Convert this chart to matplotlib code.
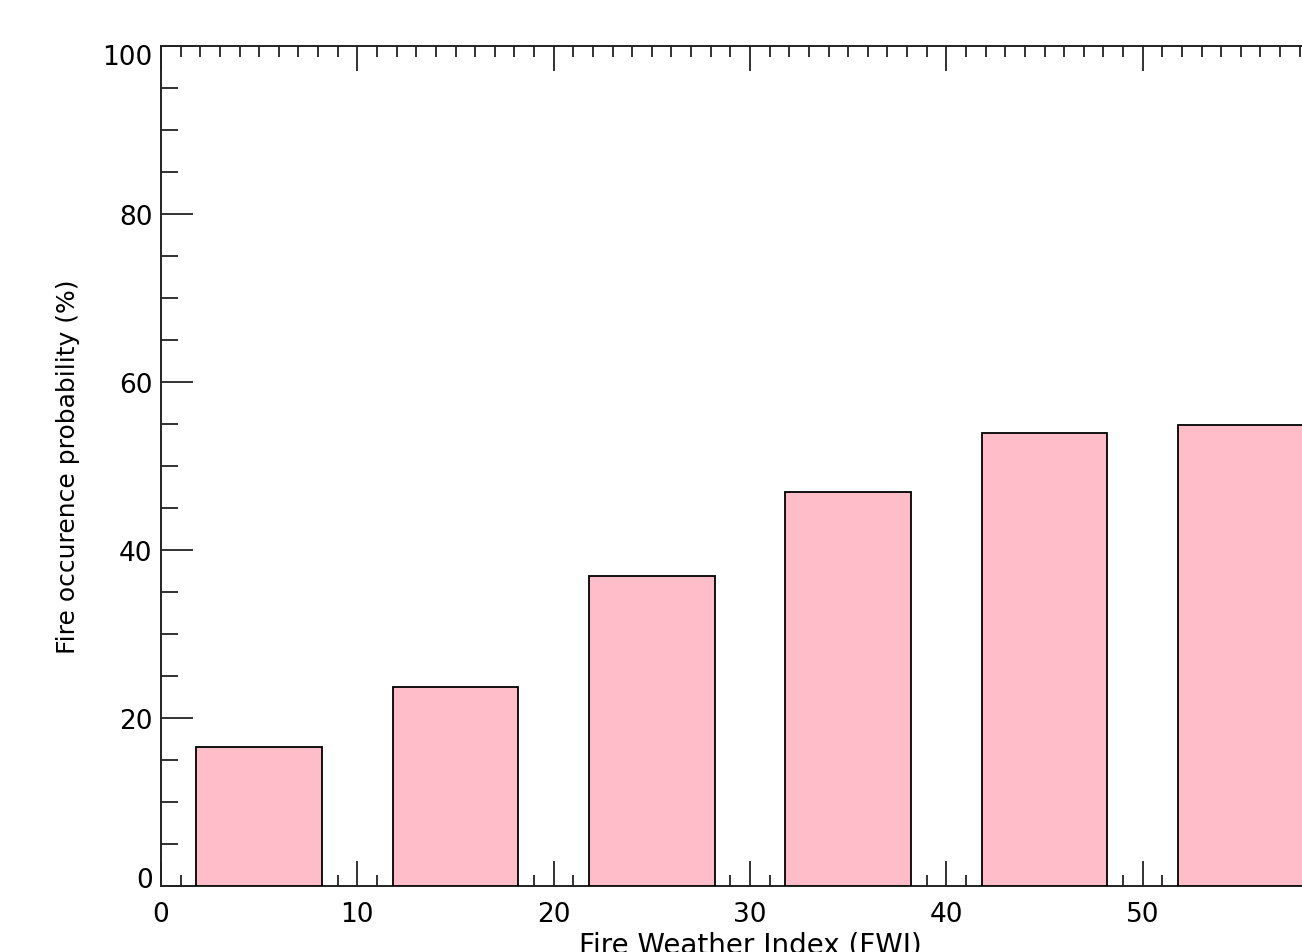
import matplotlib.pyplot as plt
from matplotlib.ticker import MultipleLocator
from matplotlib.transforms import ScaledTranslation

plt.rcParams["font.family"] = ["DejaVu Sans"]

# FWI class centres and fire occurrence probability per class
fwi_centres = [5, 15, 25, 35, 45, 55]
probability = [16.5, 23.7, 36.9, 46.9, 53.9, 54.9]
bar_width = 6.4

fig = plt.figure(figsize=(13.02, 9.53), dpi=100)
# axes run past the right edge of the figure, so the last bar is clipped
ax = fig.add_axes([161 / 1302, 1 - 887 / 953, 1178 / 1302, 840 / 953])

ax.bar(fwi_centres, probability, width=bar_width, color="#ffbdca",
       edgecolor="black", linewidth=1.3, zorder=3)

ax.set_xlim(0, 60)
ax.set_ylim(0, 100)
ax.xaxis.set_major_locator(MultipleLocator(10))
ax.xaxis.set_minor_locator(MultipleLocator(1))
ax.yaxis.set_major_locator(MultipleLocator(20))
ax.yaxis.set_minor_locator(MultipleLocator(5))

ax.tick_params(axis="x", which="both", direction="in", top=True, bottom=True,
               labelsize=19, pad=11, width=1.3, color="#222222")
ax.tick_params(axis="x", which="major", length=18)
ax.tick_params(axis="x", which="minor", length=8)
ax.tick_params(axis="y", which="both", direction="in", left=True, right=False,
               labelsize=19, pad=6, width=1.3, color="#222222")
ax.tick_params(axis="y", which="major", length=23)
ax.tick_params(axis="y", which="minor", length=12)

for side in ["left", "bottom", "top", "right"]:
    ax.spines[side].set_linewidth(1.4)
    ax.spines[side].set_color("#222222")

ax.set_xlabel("Fire Weather Index (FWI)", fontsize=20, labelpad=2)
ax.set_ylabel("Fire occurence probability (%)", fontsize=18, labelpad=16)

# keep the end labels of the y axis inside the plot frame
fig.canvas.draw()
for tick in ax.yaxis.get_major_ticks():
    if abs(tick.get_loc()) < 1e-9:
        shift = ScaledTranslation(0, 9 / 100, fig.dpi_scale_trans)
        tick.label1.set_transform(tick.label1.get_transform() + shift)
    elif abs(tick.get_loc() - 100) < 1e-9:
        shift = ScaledTranslation(0, -8 / 100, fig.dpi_scale_trans)
        tick.label1.set_transform(tick.label1.get_transform() + shift)

fig.savefig("out.png", dpi=100)
